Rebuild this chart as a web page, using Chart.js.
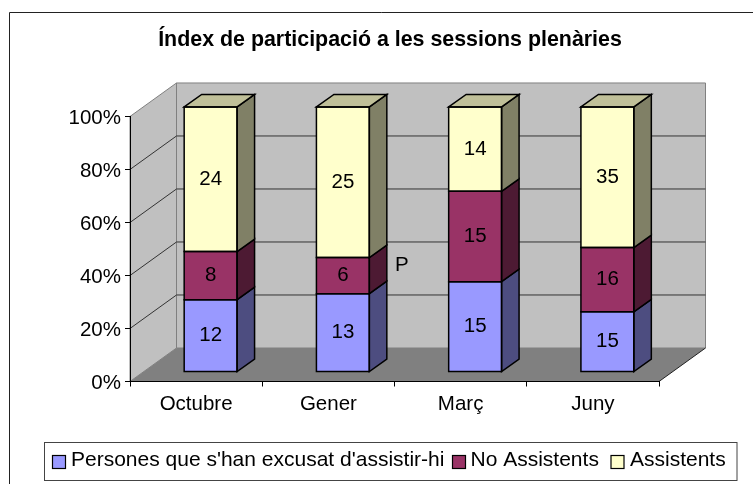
<!DOCTYPE html>
<html><head><meta charset="utf-8">
<style>html,body{margin:0;padding:0;background:#fff}canvas{display:block}</style>
<script src="https://cdn.jsdelivr.net/npm/chart.js@4"></script>
</head><body><canvas id="c" width="753" height="484"></canvas>
<script>
const titleText = "Índex de participació a les sessions plenàries";
const categories = ["Octubre", "Gener", "Març", "Juny"];
const excused = [12, 13, 15, 15];
const absent = [8, 6, 15, 16];
const present = [24, 25, 14, 35];
const seriesNames = ["Persones que s'han excusat d'assistir-hi", "No Assistents", "Assistents"];
const seriesColors = ["#9999FF", "#993366", "#FFFFCC"];
const sideColors = ["#4D4D80", "#4D1A33", "#808066"];
const topColor = "#C0C099";
const percentTicks = [0, 20, 40, 60, 80, 100];
const FONT = '"Liberation Sans", Arial, sans-serif';
const FS = 20.5;
const LEGEND_FS = 21;

const series = [excused, absent, present];
const totals = categories.map((_, i) => series.reduce((s, a) => s + a[i], 0));
const pct = a => a.map((v, i) => v / totals[i] * 100);

function poly(ctx, pts, fill, stroke, lw) {
  ctx.beginPath();
  pts.forEach((p, i) => i ? ctx.lineTo(p[0], p[1]) : ctx.moveTo(p[0], p[1]));
  ctx.closePath();
  if (fill) { ctx.fillStyle = fill; ctx.fill(); }
  if (stroke) { ctx.strokeStyle = stroke; ctx.lineWidth = lw || 1; ctx.lineJoin = "miter"; ctx.stroke(); }
}

const WALL = { dx: 46.5, dy: -33.5 };
const BAR = { ox: 14.5, oy: -9.5, dx: 17.5, dy: -12.5 };

const scene = {
  id: "scene",
  afterLayout(chart) {
    // the title is centred over the plot plus its depth, not over the front plane
    if (chart.titleBlock) { chart.titleBlock.left = 27; chart.titleBlock.right = 753; }
  },
  beforeDraw(chart) {
    const { ctx, chartArea: a, scales: { y } } = chart;
    ctx.save();
    ctx.fillStyle = "#fff"; ctx.fillRect(0, 0, chart.width, chart.height);
    ctx.strokeStyle = "#222"; ctx.lineWidth = 1;
    ctx.beginPath(); ctx.moveTo(9.5, 484); ctx.lineTo(9.5, 12.5); ctx.lineTo(753, 12.5); ctx.stroke();
    const d = WALL;
    poly(ctx, [[a.left + d.dx, a.top + d.dy], [a.right + d.dx, a.top + d.dy], [a.right + d.dx, a.bottom + d.dy], [a.left + d.dx, a.bottom + d.dy]], "#C0C0C0", "#808080", 1);
    poly(ctx, [[a.left, a.top], [a.left + d.dx, a.top + d.dy], [a.left + d.dx, a.bottom + d.dy], [a.left, a.bottom]], "#C0C0C0", "#808080", 1);
    poly(ctx, [[a.left, a.bottom], [a.left + d.dx, a.bottom + d.dy], [a.right + d.dx, a.bottom + d.dy], [a.right, a.bottom]], "#808080");
    percentTicks.forEach(t => {
      if (t === 0 || t === 100) return;
      const py = y.getPixelForValue(t);
      ctx.strokeStyle = "#333"; ctx.lineWidth = 1;
      ctx.beginPath();
      ctx.moveTo(a.left, py); ctx.lineTo(a.left + d.dx, py + d.dy); ctx.lineTo(a.right + d.dx, py + d.dy);
      ctx.stroke();
    });
    ctx.strokeStyle = "#222";
    ctx.beginPath(); ctx.moveTo(a.right, a.bottom); ctx.lineTo(a.right + d.dx, a.bottom + d.dy); ctx.stroke();
    ctx.restore();
  },
  beforeDatasetsDraw(chart) {
    chart.ctx.save();
    chart.ctx.translate(BAR.ox, BAR.oy);
  },
  afterDatasetsDraw(chart) {
    const ctx = chart.ctx;
    const b = BAR;
    chart.data.datasets.forEach((ds, di) => {
      chart.getDatasetMeta(di).data.forEach((el, i) => {
        const p = el.getProps(["x", "y", "base", "width"], true);
        const l = p.x - p.width / 2, r = p.x + p.width / 2;
        poly(ctx, [[r, p.y], [r + b.dx, p.y + b.dy], [r + b.dx, p.base + b.dy], [r, p.base]], sideColors[di], "#000", 1.5);
        if (di === chart.data.datasets.length - 1)
          poly(ctx, [[l, p.y], [l + b.dx, p.y + b.dy], [r + b.dx, p.y + b.dy], [r, p.y]], topColor, "#000", 1.5);
        poly(ctx, [[l, p.y], [r, p.y], [r, p.base], [l, p.base]], null, "#000", 1.5);
        ctx.fillStyle = "#000";
        ctx.font = FS + "px " + FONT;
        ctx.textAlign = "center"; ctx.textBaseline = "middle";
        ctx.fillText(String(series[di][i]), p.x, (p.y + p.base) / 2);
      });
    });
    ctx.restore();
  },
  afterDraw(chart) {
    const ctx = chart.ctx;
    ctx.save();
    ctx.fillStyle = "#000";
    ctx.font = FS + "px " + FONT;
    ctx.textAlign = "left"; ctx.textBaseline = "alphabetic";
    ctx.fillText("P", 395, 271);
    ctx.fillStyle = "#fff"; ctx.strokeStyle = "#444"; ctx.lineWidth = 1;
    ctx.fillRect(44.5, 442.5, 692.5, 38); ctx.strokeRect(44.5, 442.5, 692.5, 38);
    const swatch = [52.5, 452.5, 611];
    const text = [71, 470.5, 630];
    ctx.font = LEGEND_FS + "px " + FONT;
    seriesNames.forEach((n, i) => {
      ctx.fillStyle = seriesColors[i]; ctx.strokeStyle = "#000"; ctx.lineWidth = 1.2;
      ctx.fillRect(swatch[i], 455.5, 13, 13); ctx.strokeRect(swatch[i], 455.5, 13, 13);
      ctx.fillStyle = "#000";
      ctx.fillText(n, text[i], 465.5);
    });
    ctx.restore();
  }
};

new Chart(document.getElementById("c"), {
  type: "bar",
  data: {
    labels: categories,
    datasets: series.map((s, i) => ({
      label: seriesNames[i],
      data: pct(s),
      backgroundColor: seriesColors[i],
      borderWidth: 0,
      barPercentage: 0.4,
      categoryPercentage: 1,
      clip: false
    }))
  },
  options: {
    responsive: false,
    animation: false,
    layout: { padding: { left: 27, right: 94, top: 0, bottom: 0 } },
    plugins: {
      legend: { display: false },
      tooltip: { enabled: false },
      title: {
        display: true, text: titleText, color: "#000",
        font: { family: FONT, size: 21.4, weight: "bold", lineHeight: 1.2 },
        padding: { top: 27.5, bottom: 63.3 }
      }
    },
    scales: {
      x: {
        stacked: true,
        afterFit(s) { s.height = 102.5; },
        border: { color: "#000", width: 1 },
        grid: { drawOnChartArea: false, drawTicks: true, tickLength: 5, color: "#000" },
        ticks: { color: "#000", font: { family: FONT, size: FS }, padding: 6, maxRotation: 0, autoSkip: false }
      },
      y: {
        stacked: true, min: 0, max: 100,
        afterFit(s) { s.width = 103; },
        afterBuildTicks(s) { s.ticks = percentTicks.map(v => ({ value: v })); },
        border: { color: "#000", width: 1 },
        grid: { drawOnChartArea: false, drawTicks: true, tickLength: 5, color: "#000" },
        ticks: { color: "#000", font: { family: FONT, size: FS }, padding: 4, labelOffset: 1.5, callback: v => v + "%" }
      }
    }
  },
  plugins: [scene]
});
</script></body></html>
